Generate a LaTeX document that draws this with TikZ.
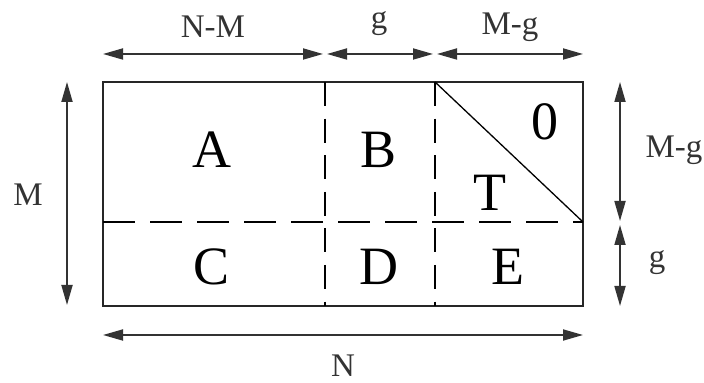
\documentclass[tikz,border=0pt]{standalone}
\usepackage{fontspec}
\setmainfont{Liberation Serif}
\usetikzlibrary{arrows.meta}

\tikzset{
    dimline/.style={{Triangle[length=10pt,width=5.5pt]}-{Triangle[length=10pt,width=5.5pt]}, line width=0.9pt, draw=black!80},
    partlabel/.style={font=\fontsize{27}{32}\selectfont, inner sep=0pt},
    dimlabel/.style={font=\fontsize{16.5}{20}\selectfont, inner sep=0pt, text=black!80},
    hcut/.style={line width=0.8pt, dash pattern=on 16pt off 7.5pt},
    vcut/.style={line width=0.8pt, dash pattern=on 12pt off 6.3pt}
}

\begin{document}
\begin{tikzpicture}[x=0.5pt,y=-0.5pt]
    \useasboundingbox (0,0) rectangle (704,383);

    % the block and its cuts
    \coordinate (tl) at (103,82);
    \coordinate (br) at (583,306);
    \coordinate (c1t) at (325,82);
    \coordinate (c1b) at (325,306);
    \coordinate (c2t) at (435,82);
    \coordinate (c2b) at (435,306);
    \coordinate (ml) at (103,222);
    \coordinate (mr) at (583,222);

    \draw[line width=1pt, draw=black!85] (tl) rectangle (br);
    \draw[vcut] (c1t)--(c1b);
    \draw[vcut] (c2t)--(c2b);
    \draw[hcut] (ml)--(mr);
    \draw[line width=0.65pt] (c2t)--(mr);

    \node[partlabel] (A) at (212,150) {A};
    \node[partlabel] (B) at (378,150) {B};
    \node[partlabel] (zero) at (545,122) {0};
    \node[partlabel] (T) at (490,193) {T};
    \node[partlabel] (C) at (212,267) {C};
    \node[partlabel] (D) at (379,267) {D};
    \node[partlabel] (E) at (508,267) {E};

    % dimensions
    \coordinate (t0) at (103,54);
    \coordinate (t1) at (323,54);
    \coordinate (t2) at (327,54);
    \coordinate (t3) at (433,54);
    \coordinate (t4) at (437,54);
    \coordinate (t5) at (583,54);
    \draw[dimline] (t0)--(t1);
    \draw[dimline] (t2)--(t3);
    \draw[dimline] (t4)--(t5);

    \coordinate (l0) at (67,82);
    \coordinate (l1) at (67,305);
    \draw[dimline] (l0)--(l1);

    \coordinate (r0) at (620,82);
    \coordinate (r1) at (620,221);
    \coordinate (r2) at (620,225);
    \coordinate (r3) at (620,306);
    \draw[dimline] (r0)--(r1);
    \draw[dimline] (r2)--(r3);

    \coordinate (b0) at (103,335);
    \coordinate (b1) at (583,335);
    \draw[dimline] (b0)--(b1);

    \node[dimlabel] (nm) at (213,27) {N-M};
    \node[dimlabel] (gtop) at (379,24) {g};
    \node[dimlabel] (mgtop) at (510,27) {M-g};
    \node[dimlabel] (m) at (28,195) {M};
    \node[dimlabel] (mgright) at (674,150) {M-g};
    \node[dimlabel] (gright) at (657,263) {g};
    \node[dimlabel] (n) at (343,366) {N};
\end{tikzpicture}
\end{document}
